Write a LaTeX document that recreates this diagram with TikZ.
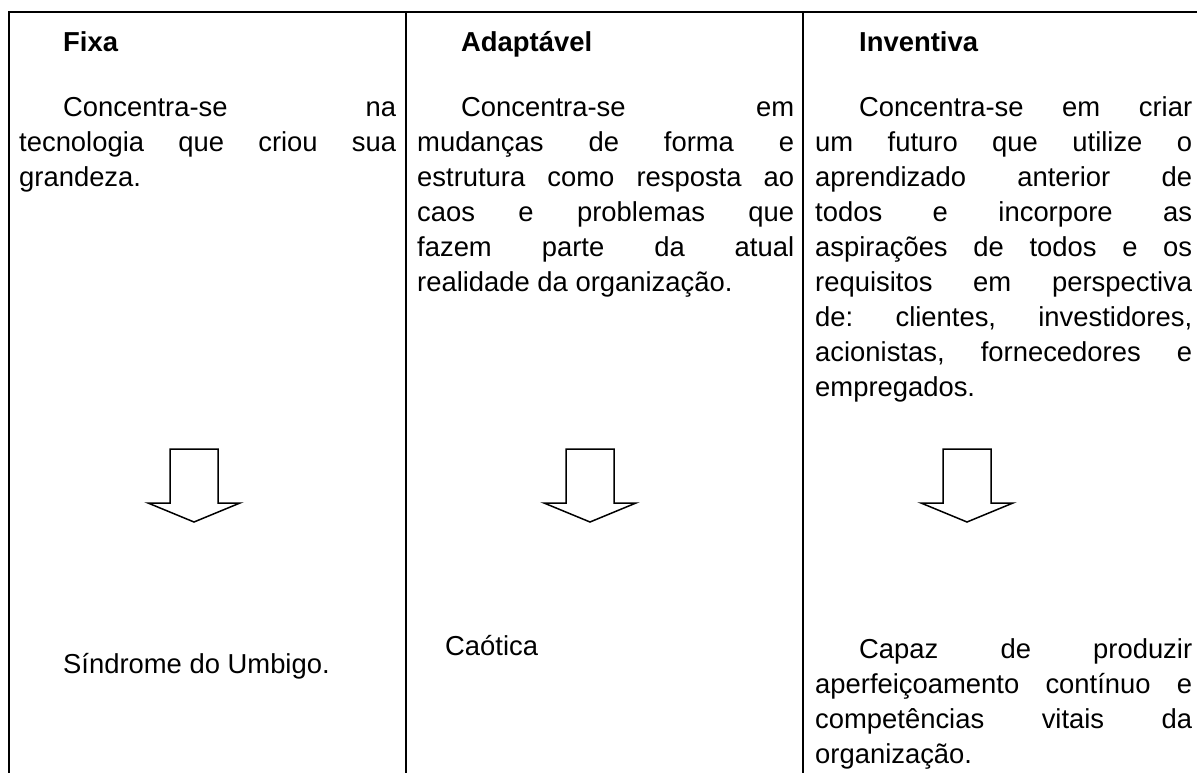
\documentclass[tikz,border=0pt]{standalone}
\usepackage{fontspec}
\setmainfont{Liberation Sans}
\tolerance=10000
\hbadness=10000
\hyphenpenalty=10000
\exhyphenpenalty=10000
\frenchspacing

\begin{document}
\begin{tikzpicture}[x=1pt,y=-1pt,
    rule/.style={line width=1.8pt},
    seta/.style={line width=1.5pt,line join=miter},
    head/.style={anchor=base west,inner sep=0pt,font=\bfseries\fontsize{27.4}{35}\selectfont},
    body/.style={anchor=base west,inner sep=0pt,text width=377pt,align=justify,
      font=\fontsize{27.4}{35}\selectfont}]

  \useasboundingbox (0,0) rectangle (1197,773);

  % table rules
  \draw[rule] (9,773) -- (9,12) -- (1197,12);
  \foreach \x in {406,803}
    \draw[rule] (\x,12) -- (\x,773);

  % headers
  \node[head] (fixa)   at (63,52)  {Fixa};
  \node[head] (adapt)  at (461,52) {Adaptável};
  \node[head] (invent) at (859,52) {Inventiva};

  % descriptions
  \node[body] (fixatxt) at (19,117) {\hspace*{44pt}Concentra-se na\linebreak
    tecnologia que criou sua\linebreak
    grandeza.};
  \node[body] (adapttxt) at (417,117) {\hspace*{44pt}Concentra-se em\linebreak
    mudanças de forma e\linebreak
    estrutura como resposta ao\linebreak
    caos e problemas que\linebreak
    fazem parte da atual\linebreak
    realidade da organização.};
  \node[body] (inventtxt) at (815,117) {\hspace*{44pt}Concentra-se em criar\linebreak
    um futuro que utilize o\linebreak
    aprendizado anterior de\linebreak
    todos e incorpore as\linebreak
    aspirações de todos e os\linebreak
    requisitos em perspectiva\linebreak
    de: clientes, investidores,\linebreak
    acionistas, fornecedores e\linebreak
    empregados.};

  % block arrows
  \foreach \c in {194,590,967}
    \draw[seta] (\c-24,449) -- (\c+24,449) -- (\c+24,503) -- (\c+46,503)
      -- (\c,522) -- (\c-46,503) -- (\c-24,503) -- cycle;

  % results
  \node[body] (umbigo)  at (19,673)  {\hspace*{44pt}Síndrome do Umbigo.};
  \node[body] (caotica) at (445,655) {Caótica};
  \node[body] (capaz)   at (815,658) {\hspace*{44pt}Capaz de produzir\linebreak
    aperfeiçoamento contínuo e\linebreak
    competências vitais da\linebreak
    organização.};

\end{tikzpicture}
\end{document}
